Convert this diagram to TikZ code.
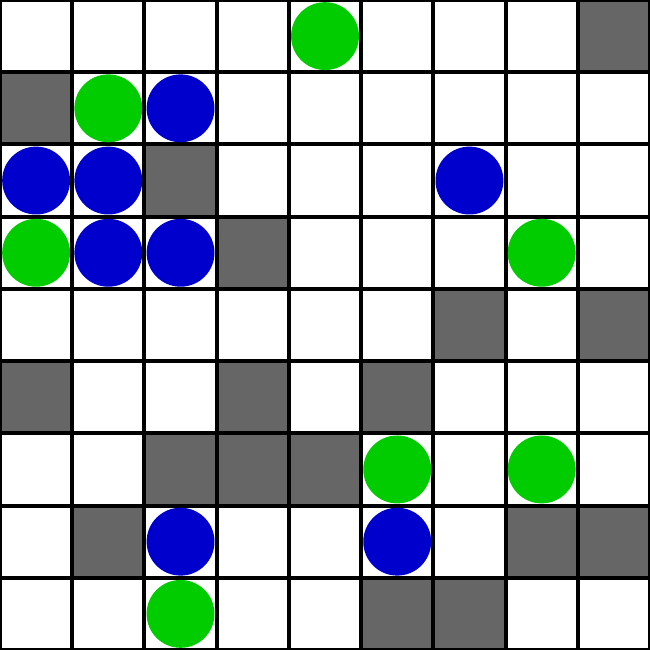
\documentclass[tikz,border=0pt]{standalone}
\usepackage{tikz}
\definecolor{WallGray}{HTML}{666666}
\definecolor{TokGreen}{HTML}{00CC00}
\definecolor{TokBlue}{HTML}{0000CC}
\tikzset{
  wallcell/.style={fill=WallGray},
  gridline/.style={line width=1.6pt,draw=black},
  greentok/.style={fill=TokGreen},
  bluetok/.style={fill=TokBlue}
}
\begin{document}
\begin{tikzpicture}
\useasboundingbox (0,0) rectangle (9,9);
\fill[white] (0,0) rectangle (9,9);
% walls (column, row from top)
\foreach \c/\r in {8/0,0/1,2/2,3/3,6/4,8/4,0/5,3/5,5/5,2/6,3/6,4/6,1/7,7/7,8/7,5/8,6/8}
  \fill[wallcell] (\c,8-\r) rectangle ++(1,1);
% grid
\foreach \i in {0,...,9} {
  \draw[gridline] (\i,0) -- (\i,9);
  \draw[gridline] (0,\i) -- (9,\i);
}
% tokens
\foreach \c/\r in {4/0,1/1,0/3,7/3,5/6,7/6,2/8}
  \fill[greentok] (\c+0.5,8.5-\r) circle (0.47);
\foreach \c/\r in {2/1,0/2,1/2,6/2,1/3,2/3,2/7,5/7}
  \fill[bluetok] (\c+0.5,8.5-\r) circle (0.47);
\end{tikzpicture}
\end{document}
